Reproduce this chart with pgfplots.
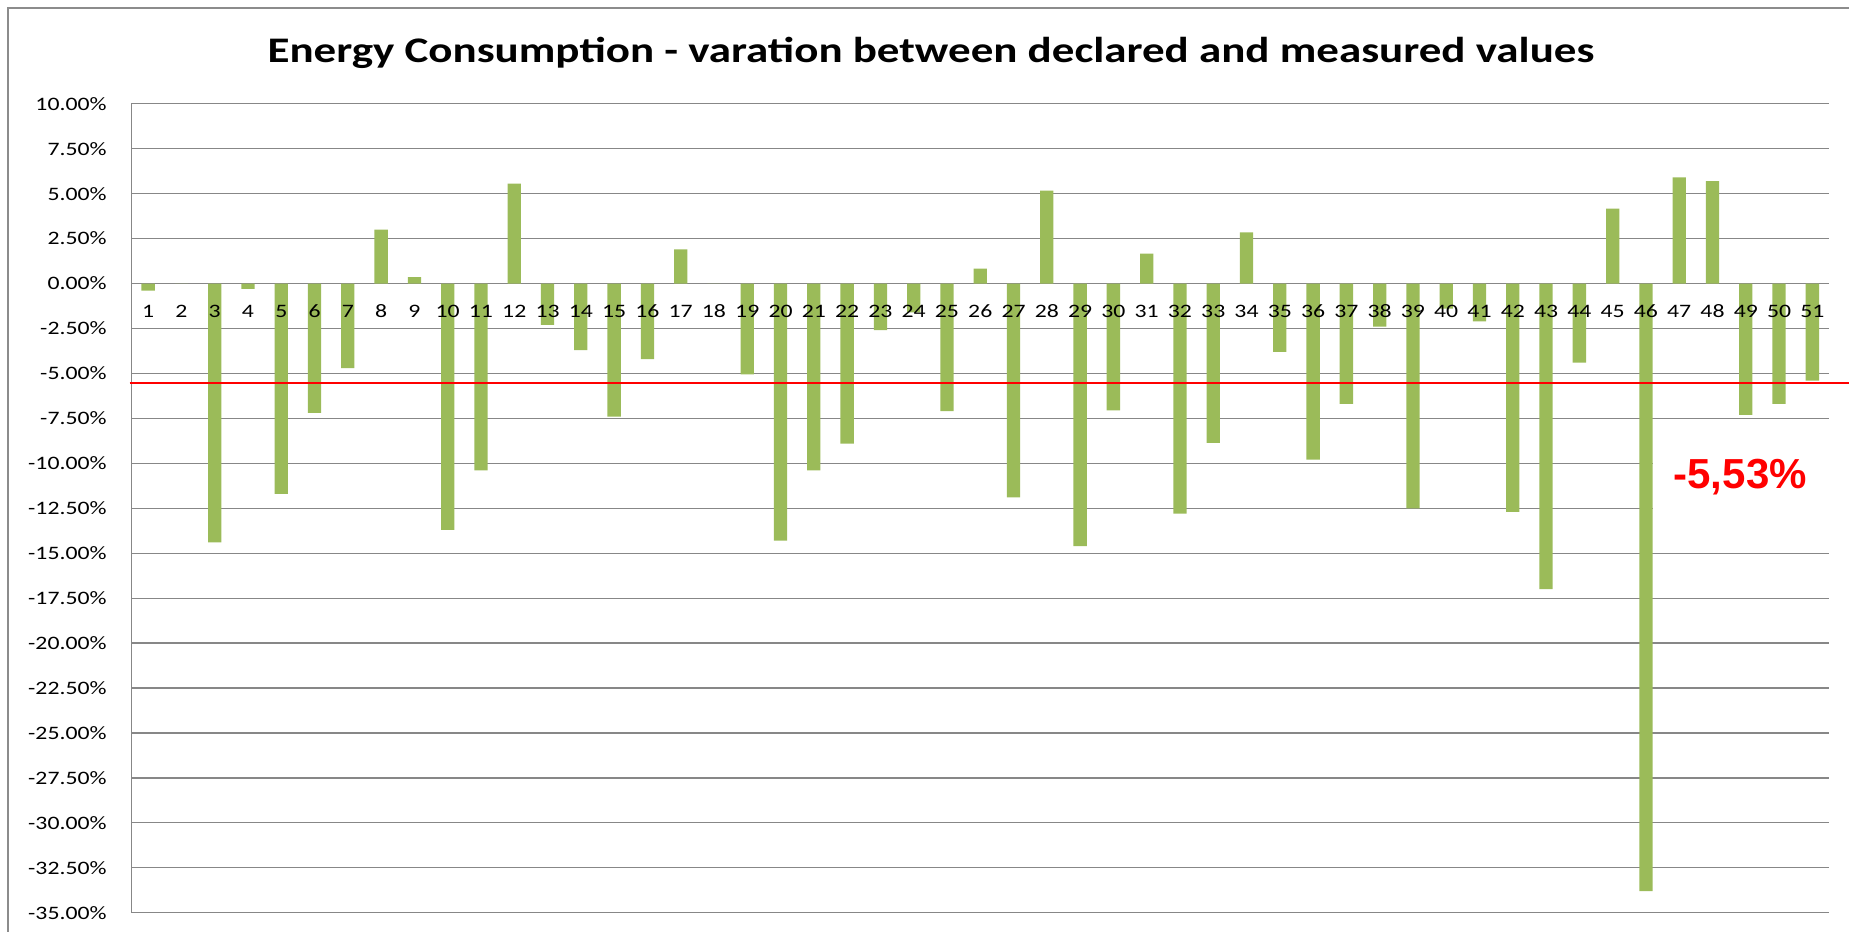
\documentclass[border=0pt]{standalone}
\usepackage{pgfplots}
\pgfplotsset{compat=1.18}
\usepackage{fontspec}
\setmainfont{Carlito}[FakeStretch=1.25]
\newfontfamily\labelfont{Liberation Sans}

\definecolor{bargreen}{HTML}{9BBB59}
\definecolor{gridgray}{HTML}{878787}
\definecolor{framegray}{HTML}{8C8C8C}

\begin{document}
\begin{tikzpicture}
\begin{axis}[
  scale only axis,
  width=848.75pt, height=404.55pt,
  at={(0,0)}, anchor=south west,
  xmin=0.5, xmax=51.5, ymin=-35, ymax=10,
  axis x line*=middle, axis y line*=left,
  hide obscured x ticks=false, hide obscured y ticks=false,
  axis line style={gridgray, line width=0.6pt},
  xtick=\empty, ytick distance=2.5,
  ymajorgrids, grid style={gridgray, line width=0.6pt},
  major tick length=0pt,
  ybar, bar width=6.65pt,
  clip=false,
  /pgf/number format/assume math mode=true,
  ticklabel style={font=\fontsize{9.5}{11}\selectfont, text=black},
  yticklabel style={inner sep=0pt, anchor=east, xshift=-12.25pt},
  yticklabel={\pgfmathprintnumber[fixed,fixed zerofill,precision=2]{\tick}\%},
]
\addplot[fill=bargreen, draw=none] coordinates {
(1,-0.4) (2,0) (3,-14.4) (4,-0.3) (5,-11.7) (6,-7.2) (7,-4.7) (8,3.0) (9,0.35) (10,-13.7)
(11,-10.4) (12,5.55) (13,-2.3) (14,-3.7) (15,-7.4) (16,-4.2) (17,1.9) (18,0) (19,-5.05) (20,-14.3)
(21,-10.4) (22,-8.9) (23,-2.6) (24,-1.6) (25,-7.1) (26,0.83) (27,-11.9) (28,5.17) (29,-14.6) (30,-7.05)
(31,1.66) (32,-12.8) (33,-8.87) (34,2.85) (35,-3.8) (36,-9.8) (37,-6.7) (38,-2.4) (39,-12.5) (40,-1.4)
(41,-2.1) (42,-12.7) (43,-17.0) (44,-4.4) (45,4.17) (46,-33.8) (47,5.9) (48,5.7) (49,-7.3) (50,-6.7)
(51,-5.4)
};
% category numbers, set over the bars
\pgfplotsinvokeforeach{1,...,51}{
  \node[anchor=north, inner sep=0pt, yshift=-10.5pt, font=\fontsize{9.5}{11}\selectfont]
    at (axis cs:#1,0) {#1};
}
% average line
\draw[red, line width=1.4pt] (axis cs:0.44,-5.53) -- (axis cs:53,-5.53);
% white patch behind the label
\fill[white] (axis cs:46.22,-8.6) rectangle (axis cs:51.6,-13.8);
\node[anchor=base west, inner sep=0pt, text=red, font=\labelfont\bfseries\fontsize{21}{24}\selectfont]
  at (axis cs:46.82,-11.40) {-5,53\%};
\end{axis}
\node[font=\bfseries\fontsize{18}{22}\selectfont] at (399.75pt,429.85pt)
  {Energy Consumption - varation between declared and measured values};
\draw[framegray, line width=1pt] (-61.75pt,-20pt) -- (-61.75pt,452.4pt) -- (900pt,452.4pt);
\pgfresetboundingbox
\path (-65.75pt,-9.6pt) rectangle (858.75pt,456.4pt);
\end{tikzpicture}
\end{document}
